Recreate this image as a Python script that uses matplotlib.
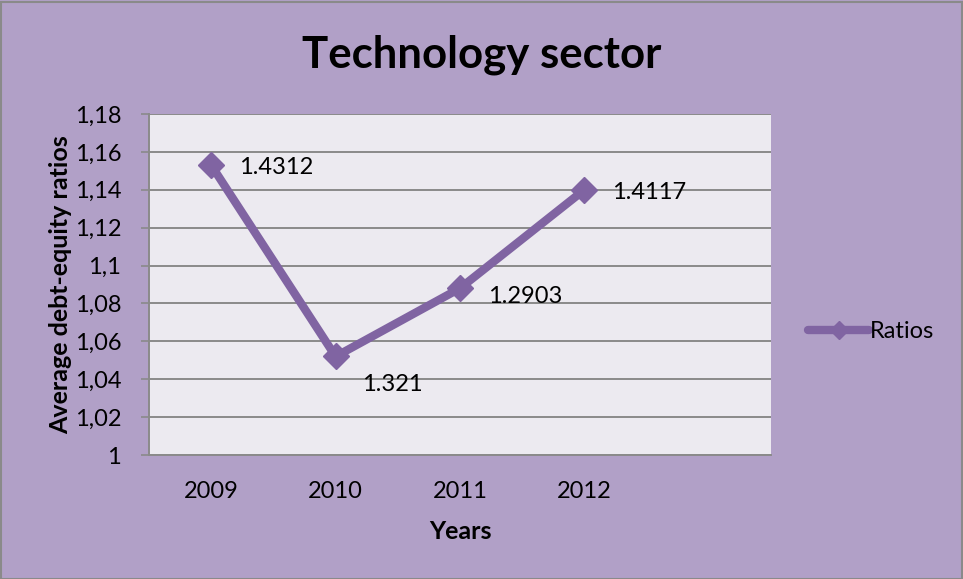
import matplotlib
matplotlib.use("Agg")
import matplotlib.pyplot as plt
from matplotlib.lines import Line2D

# Data
years = ["2009", "2010", "2011", "2012"]
ratios = [1.153, 1.052, 1.088, 1.140]
label_texts = ["1.4312", "1.321", "1.2903", "1.4117"]
y_ticks = [1.00, 1.02, 1.04, 1.06, 1.08, 1.10, 1.12, 1.14, 1.16, 1.18]
y_tick_labels = ["1", "1,02", "1,04", "1,06", "1,08", "1,1", "1,12", "1,14", "1,16", "1,18"]

plt.rcParams['font.family'] = ['Lato', 'DejaVu Sans']

W, H = 963, 579
fig = plt.figure(figsize=(W / 100, H / 100), dpi=100)
fig.patch.set_facecolor("#B1A0C7")

# outer frame
fig.add_artist(plt.Rectangle((0.5 / W, 0.5 / H), 1 - 2 / W, 1 - 2 / H,
                             transform=fig.transFigure, fill=False,
                             edgecolor="#8A8A8A", linewidth=1.5))

L, R, T, B = 149, 771, 114, 455
ax = fig.add_axes([L / W, 1 - B / H, (R - L) / W, (B - T) / H])
ax.set_facecolor("#ECEAF0")

line_color = "#8064A2"
x = list(range(len(years)))
ax.plot(x, ratios, color=line_color, linewidth=6, marker="D",
        markersize=13, solid_capstyle="round", zorder=3)

# data labels placed to the right of each point
offsets = [(20, -2), (19, -20), (20, -6), (20, -2)]
for xi, yi, txt, (dx, dy) in zip(x, ratios, label_texts, offsets):
    ax.annotate(txt, (xi, yi), xytext=(dx, dy), textcoords="offset points",
                fontsize=17, color="black", va="center", ha="left", zorder=4)

ax.set_xlim(-0.5, 4.5)
ax.set_ylim(1.0, 1.18)
ax.set_yticks(y_ticks)
ax.set_yticklabels(y_tick_labels, fontsize=17)
ax.set_xticks(x)
ax.set_xticklabels(years, fontsize=17)
ax.tick_params(axis="x", length=0, pad=19)
ax.tick_params(axis="y", length=6, width=1.2, color="#8A8A8A", pad=14)

ax.grid(axis="y", color="#8A8A8A", linewidth=1.4, zorder=1)
ax.set_axisbelow(True)
for side in ["top", "right"]:
    ax.spines[side].set_visible(False)
for side in ["left", "bottom"]:
    ax.spines[side].set_color("#8A8A8A")
    ax.spines[side].set_linewidth(1.4)

ax.set_xlabel("Years", fontsize=18, fontweight="bold", labelpad=13)
ax.set_ylabel("Average debt-equity ratios", fontsize=18, fontweight="bold", labelpad=2)

fig.text(482 / W, 1 - 55 / H, "Technology sector", fontsize=31.5, fontweight="bold",
         ha="center", va="center")

handle = Line2D([], [], color=line_color, linewidth=6, marker="D",
                markersize=9, solid_capstyle="round")
fig.legend([handle], ["Ratios"], loc="center left",
           bbox_to_anchor=(808 / W, 1 - 332 / H), frameon=False,
           fontsize=17, handlelength=2.6, handletextpad=0.0,
           borderpad=0, borderaxespad=0)

fig.savefig("out.png", dpi=100, facecolor=fig.get_facecolor())
